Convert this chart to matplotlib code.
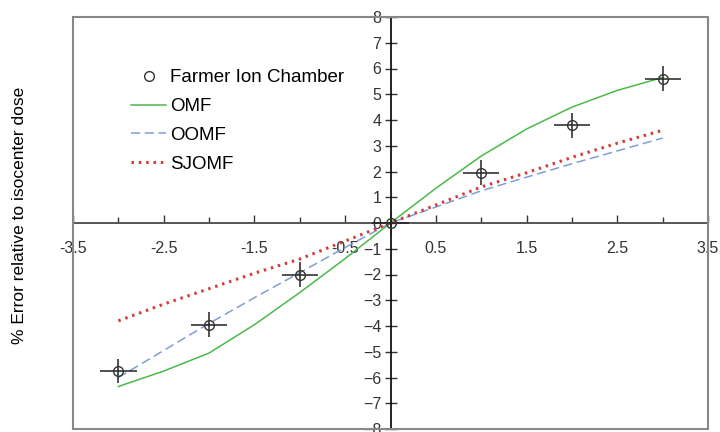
import numpy as np
import matplotlib.pyplot as plt
from matplotlib.patches import Rectangle
from matplotlib.ticker import MultipleLocator, FixedLocator

plt.rcParams['font.family'] = ['Liberation Sans', 'DejaVu Sans']

# measured points (Farmer ion chamber)
x_meas = [-3, -2, -1, 0, 1, 2, 3]
y_meas = [-5.75, -3.95, -2.0, 0.0, 1.95, 3.8, 5.6]
xerr_meas = 0.2
yerr_meas = 0.48

# model curves
x_curve = [-3, -2.5, -2, -1.5, -1, -0.5, 0, 0.5, 1, 1.5, 2, 2.5, 3]
y_omf = [-6.35, -5.75, -5.05, -3.95, -2.7, -1.38, 0.0, 1.35, 2.6, 3.65, 4.5, 5.15, 5.65]
y_oomf = [-6.0, -4.95, -3.9, -2.9, -1.93, -0.95, 0.0, 0.62, 1.25, 1.78, 2.3, 2.8, 3.3]
y_sjomf = [-3.8, -3.15, -2.55, -1.95, -1.4, -0.7, 0.0, 0.7, 1.4, 1.95, 2.55, 3.1, 3.6]

fig = plt.figure(figsize=(7.2, 4.32), dpi=100)
ax = fig.add_axes([73/720, 1 - 429/432, (708 - 73)/720, (429 - 17)/432])

ax.plot(x_curve, y_omf, '-', color='#4cb84a', lw=1.1, label='OMF')
ax.plot(x_curve, y_oomf, '--', color='#7d9fd6', lw=1.1, dashes=(6, 3), label='OOMF')
ax.plot(x_curve, y_sjomf, ':', color='#d23b36', lw=2.2, dashes=(0.8, 1.6), label='SJOMF')
ax.errorbar(x_meas, y_meas, xerr=xerr_meas, yerr=yerr_meas, fmt='none',
            ecolor='#222222', elinewidth=1.1, capsize=0, zorder=4)
ax.plot(x_meas, y_meas, 'o', mfc='none', mec='#333333', ms=7, mew=1.0,
        zorder=5, label='Farmer Ion Chamber')

ax.set_xlim(-3.5, 3.5)
ax.set_ylim(-8, 8)

# axes crossing at the origin
for s in ['top', 'right']:
    ax.spines[s].set_visible(False)
ax.spines['left'].set_position(('data', 0))
ax.spines['bottom'].set_position(('data', 0))
ax.spines['left'].set_color('black')
ax.spines['left'].set_linewidth(1.2)
ax.spines['bottom'].set_color('#555555')
ax.spines['bottom'].set_linewidth(1.4)

ax.xaxis.set_major_locator(FixedLocator(np.arange(-3.5, 3.6, 1.0)))
ax.xaxis.set_minor_locator(FixedLocator(np.arange(-3, 3.1, 1.0)))
ax.set_xticklabels(['-3.5', '-2.5', '-1.5', '-0.5', '0.5', '1.5', '2.5', '3.5'])
ax.tick_params(axis='x', which='major', direction='in', length=6, width=1,
               pad=13, labelsize=11.5, colors='#333333')
ax.tick_params(axis='x', which='minor', direction='in', length=4, width=1,
               colors='#333333')

ax.yaxis.set_major_locator(MultipleLocator(1))
ax.tick_params(axis='y', direction='inout', length=9, width=1, pad=2,
               labelsize=11.5, colors='#333333')

# outer frame
ax.add_patch(Rectangle((0, 0), 1, 1, transform=ax.transAxes, fill=False,
                       ec='#888888', lw=1.5, clip_on=False, zorder=10))

h, l = ax.get_legend_handles_labels()
order = [3, 0, 1, 2]
ax.legend([h[i] for i in order], [l[i] for i in order], frameon=False,
          loc='upper left', bbox_to_anchor=(122/720, 1 - 60/432),
          bbox_transform=fig.transFigure, fontsize=13.5, handlelength=1.85,
          handletextpad=0.2, labelspacing=0.62, borderpad=0)

fig.text(20/720, 217/432, '% Error relative to isocenter dose', rotation=90,
         ha='center', va='center', fontsize=12.5)

fig.savefig('out.png', dpi=100)
